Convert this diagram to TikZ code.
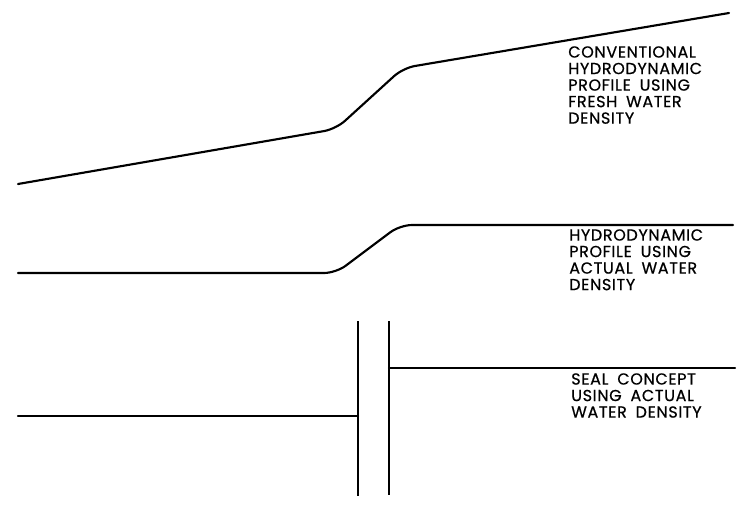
\documentclass[tikz,border=0pt]{standalone}
\usepackage{fontspec}
\newfontfamily\lblfont[LetterSpace=4,WordSpace=1.8,FakeBold=0.6]{Poppins}
\begin{document}
\begin{tikzpicture}[x=0.75pt,y=-0.75pt,
  profile/.style={line width=1.6pt,line join=round,line cap=round},
  lbl/.style={anchor=north west,inner sep=0pt,align=left,
    font=\lblfont\fontsize{12}{12.4}\selectfont}]
\useasboundingbox (0,0) rectangle (750,511);
% profile 1
\coordinate (a0) at (18,184);
\coordinate (a1) at (336,129);
\coordinate (a2) at (403,68);
\coordinate (a3) at (729,13);
\draw[profile,rounded corners=9pt] (a0) -- (a1) -- (a2) -- (a3);
\node[lbl] (t1) at (568,46) {CONVENTIONAL\\HYDRODYNAMIC\\PROFILE USING\\FRESH WATER\\DENSITY};
% profile 2
\coordinate (b0) at (18,273);
\coordinate (b1) at (336,273);
\coordinate (b2) at (400,225);
\coordinate (b3) at (733,225);
\draw[profile,rounded corners=9pt] (b0) -- (b1) -- (b2) -- (b3);
\node[lbl] (t2) at (569,229) {HYDRODYNAMIC\\PROFILE USING\\ACTUAL WATER\\DENSITY};
% seal
\coordinate (c0) at (18,416);
\coordinate (c1) at (358,416);
\coordinate (w1t) at (358,321);
\coordinate (w1b) at (358,496);
\coordinate (w2t) at (389,321);
\coordinate (w2b) at (389,495);
\coordinate (c2) at (389,368);
\coordinate (c3) at (735,368);
\draw[profile] (c0) -- (c1);
\draw[profile,line cap=butt] (w1t) -- (w1b);
\draw[profile,line cap=butt] (w2t) -- (w2b);
\draw[profile] (c2) -- (c3);
\node[lbl] (t3) at (571,373) {SEAL CONCEPT\\USING ACTUAL\\WATER DENSITY};
\end{tikzpicture}
\end{document}
